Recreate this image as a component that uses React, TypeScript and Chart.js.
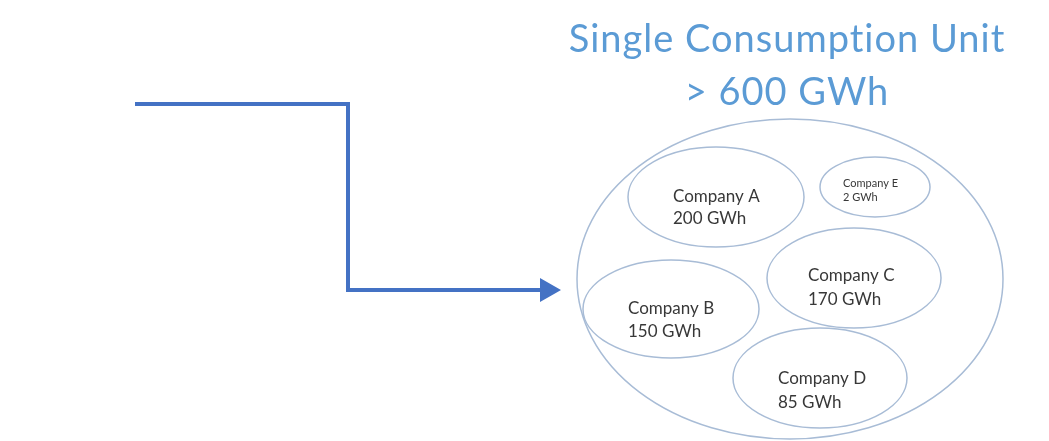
import React, { useEffect, useRef } from "react";
import { Chart, registerables } from "chart.js";

Chart.register(...registerables);

// ---- data ----
const titleLines = ["Single Consumption Unit", "> 600 GWh"];
const companies = ["Company A", "Company B", "Company C", "Company D", "Company E"];
const consumptionGWh = [200, 150, 170, 85, 2];

// arrow path (diagram coordinates)
const arrowX = [135, 348, 348, 547];
const arrowY = [104, 104, 290, 290];

// ---- layout (diagram coordinates) ----
const outerEllipse = { cx: 790, cy: 279, rx: 213, ry: 160 };
const ellipseCX = [716, 671, 854, 820, 875];
const ellipseCY = [197, 309, 278, 378, 187];
const ellipseRX = [88, 88, 87, 87, 55];
const ellipseRY = [50, 49, 50, 50, 30];
const textX = [673, 628, 808, 778, 843];
const textY = [197, 309, 276, 379, 183];
const fontSizes = [17, 17, 17, 17, 11];
const lineGaps = [22, 23, 24, 24, 14];

const W = 1049;
const H = 441;

const diagramPlugin = {
  id: "diagram",
  afterDatasetsDraw(chart: any) {
    const { ctx, scales } = chart;
    const xs = scales.x;
    const ys = scales.y;
    const px = (v: number) => xs.getPixelForValue(v);
    const py = (v: number) => ys.getPixelForValue(v);
    const sx = (v: number) => Math.abs(xs.getPixelForValue(v) - xs.getPixelForValue(0));
    const sy = (v: number) => Math.abs(ys.getPixelForValue(v) - ys.getPixelForValue(0));
    ctx.save();
    ctx.strokeStyle = "#a8bcd6";
    ctx.lineWidth = 1.5;
    ctx.beginPath();
    ctx.ellipse(px(outerEllipse.cx), py(outerEllipse.cy), sx(outerEllipse.rx), sy(outerEllipse.ry), 0, 0, Math.PI * 2);
    ctx.stroke();
    for (let i = 0; i < companies.length; i++) {
      ctx.beginPath();
      ctx.ellipse(px(ellipseCX[i]), py(ellipseCY[i]), sx(ellipseRX[i]), sy(ellipseRY[i]), 0, 0, Math.PI * 2);
      ctx.stroke();
    }
    ctx.fillStyle = "#383838";
    ctx.textAlign = "left";
    ctx.textBaseline = "middle";
    for (let i = 0; i < companies.length; i++) {
      ctx.font = `${fontSizes[i]}px Lato`;
      ctx.fillText(companies[i], px(textX[i]), py(textY[i]));
      ctx.fillText(`${consumptionGWh[i]} GWh`, px(textX[i]), py(textY[i] + lineGaps[i]));
    }
    ctx.fillStyle = "#5b9bd5";
    ctx.textAlign = "center";
    ctx.font = "38px Lato";
    try { (ctx as any).letterSpacing = "1px"; } catch (e) {}
    ctx.fillText(titleLines[0], px(787), py(40));
    ctx.fillText(titleLines[1], px(787), py(93));
    ctx.restore();
  },
};

export default function App() {
  const ref = useRef<HTMLCanvasElement | null>(null);
  useEffect(() => {
    document.body.style.margin = "0";
    const canvas = ref.current;
    if (!canvas) return;
    const chart = new Chart(canvas, {
      type: "scatter",
      data: {
        datasets: [
          {
            data: arrowX.map((x, i) => ({ x, y: arrowY[i] })),
            showLine: true,
            borderColor: "#4472c4",
            backgroundColor: "#4472c4",
            borderWidth: 4,
            pointRadius: (c: any) => (c.dataIndex === arrowX.length - 1 ? 10 : 0),
            pointStyle: "triangle",
            rotation: 90,
            borderJoinStyle: "miter",
            clip: false,
          } as any,
        ],
      },
      options: {
        animation: false,
        responsive: false,
        maintainAspectRatio: false,
        layout: { padding: 0, autoPadding: false },
        plugins: { legend: { display: false }, tooltip: { enabled: false }, title: { display: false } },
        scales: {
          x: { type: "linear", min: 0, max: W, display: false },
          y: { type: "linear", min: 0, max: H, reverse: true, display: false },
        },
      },
      plugins: [diagramPlugin],
    });
    return () => chart.destroy();
  }, []);
  return (
    <div style={{ width: W, height: H, background: "#fff" }}>
      <canvas ref={ref} width={W} height={H} style={{ width: W, height: H, display: "block" }} />
    </div>
  );
}
